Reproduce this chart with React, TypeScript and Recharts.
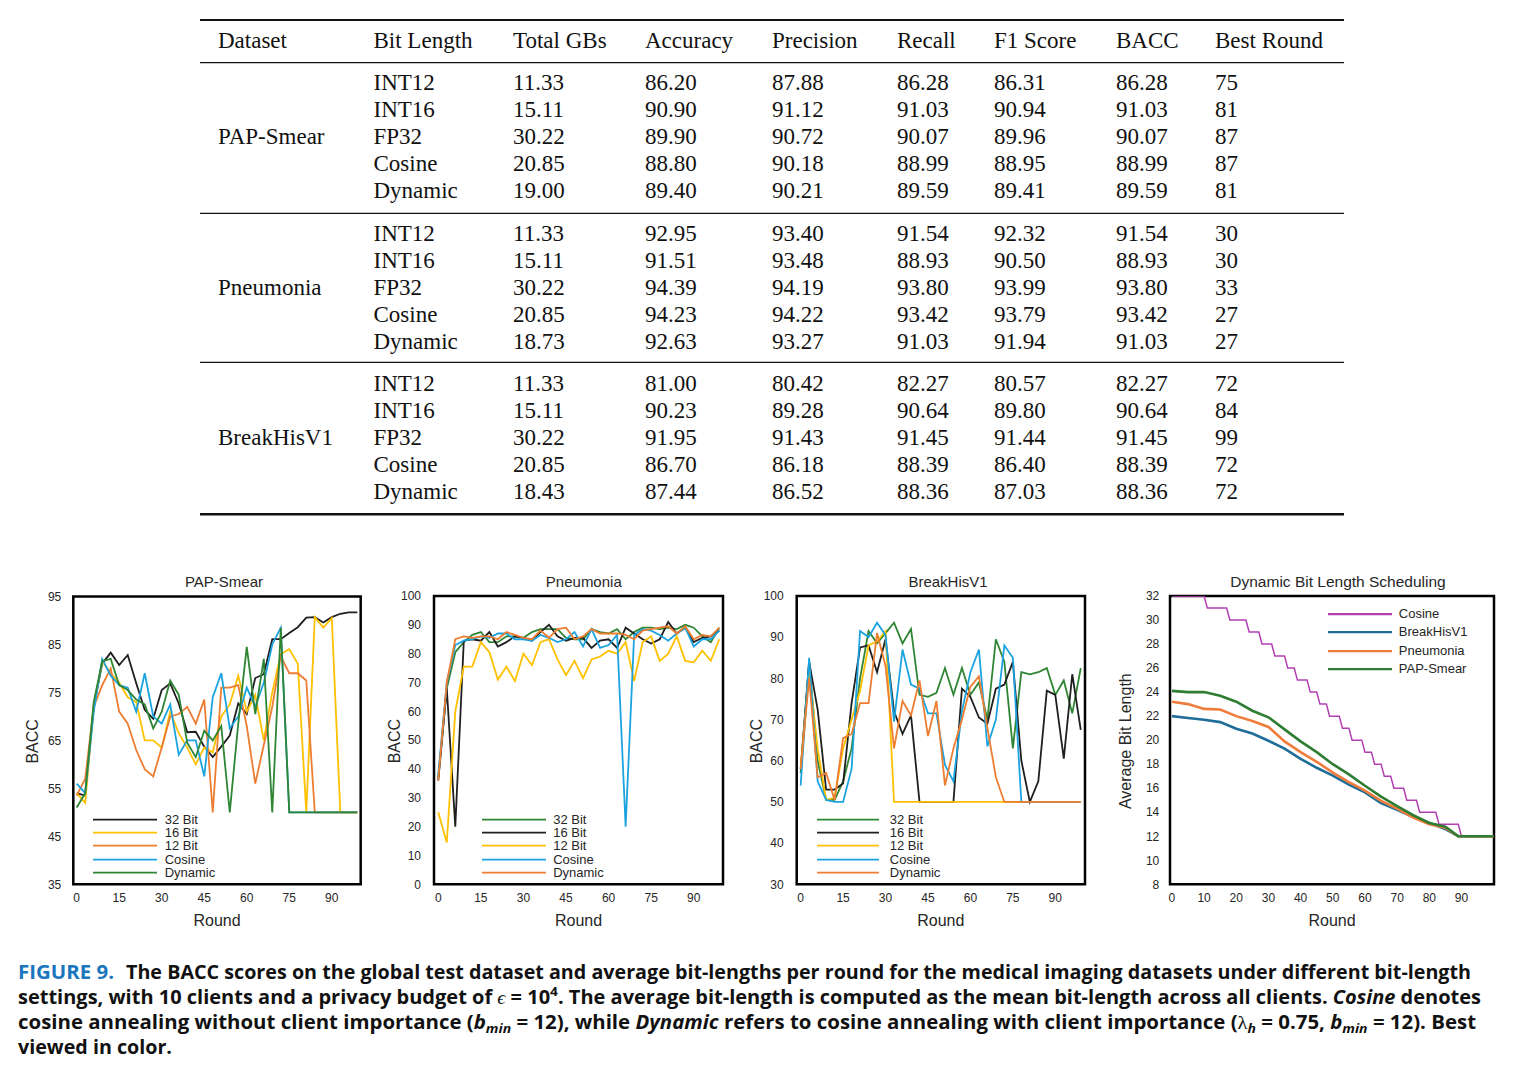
import React from 'react';
import { LineChart, Line, XAxis, YAxis, ReferenceArea, Legend } from 'recharts';

const SANS = "'Liberation Sans', Arial, Helvetica, sans-serif";
const SERIF = "'Liberation Serif', 'Times New Roman', serif";
const CAPTION_FONT = "'Liberation Sans Narrow', 'Open Sans', 'Noto Sans', sans-serif";

// ---------------- Table data ----------------
const tableHeaders = ['Dataset', 'Bit Length', 'Total GBs', 'Accuracy', 'Precision', 'Recall', 'F1 Score', 'BACC', 'Best Round'];
const datasets = ['PAP-Smear', 'Pneumonia', 'BreakHisV1'];
const bitLengths = ['INT12', 'INT16', 'FP32', 'Cosine', 'Dynamic'];
const totalGBs = [
  ['11.33', '15.11', '30.22', '20.85', '19.00'],
  ['11.33', '15.11', '30.22', '20.85', '18.73'],
  ['11.33', '15.11', '30.22', '20.85', '18.43'],
];
const accuracy = [
  ['86.20', '90.90', '89.90', '88.80', '89.40'],
  ['92.95', '91.51', '94.39', '94.23', '92.63'],
  ['81.00', '90.23', '91.95', '86.70', '87.44'],
];
const precision = [
  ['87.88', '91.12', '90.72', '90.18', '90.21'],
  ['93.40', '93.48', '94.19', '94.22', '93.27'],
  ['80.42', '89.28', '91.43', '86.18', '86.52'],
];
const recall = [
  ['86.28', '91.03', '90.07', '88.99', '89.59'],
  ['91.54', '88.93', '93.80', '93.42', '91.03'],
  ['82.27', '90.64', '91.45', '88.39', '88.36'],
];
const f1Score = [
  ['86.31', '90.94', '89.96', '88.95', '89.41'],
  ['92.32', '90.50', '93.99', '93.79', '91.94'],
  ['80.57', '89.80', '91.44', '86.40', '87.03'],
];
const bacc = [
  ['86.28', '91.03', '90.07', '88.99', '89.59'],
  ['91.54', '88.93', '93.80', '93.42', '91.03'],
  ['82.27', '90.64', '91.45', '88.39', '88.36'],
];
const bestRound = [
  ['75', '81', '87', '87', '81'],
  ['30', '30', '33', '27', '27'],
  ['72', '84', '99', '72', '72'],
];

// ---------------- Chart data (BACC per round) ----------------
const rounds = [0, 3, 6, 9, 12, 15, 18, 21, 24, 27, 30, 33, 36, 39, 42, 45, 48, 51, 54, 57, 60, 63, 66, 69, 72, 75, 78, 81, 84, 87, 90, 93, 96, 99];
const roundTicks = [0, 15, 30, 45, 60, 75, 90];

const papBit32 = [54, 53.5, 72, 81, 83.3, 80.7, 82.8, 76.9, 71.4, 69.5, 75.5, 76.9, 72.7, 66.7, 66.8, 63.7, 61.5, 63.7, 66, 72.7, 70.5, 78, 78.8, 86.1, 86.1, 87.4, 88.6, 90.6, 90.7, 89.6, 90.7, 91.4, 91.7, 91.7];
const papBit16 = [54, 52, 72, 81.5, 79, 77, 74, 73, 65, 65, 63.5, 71, 66.5, 63.5, 60, 63.5, 62.5, 70, 72.5, 78.5, 71, 74.5, 65, 75, 83, 84, 81, 50, 90.7, 88.5, 90.5, 50, 50, 50];
const papBit12 = [53.5, 57, 72, 76.5, 80, 71, 68.5, 63, 59, 57.5, 63.5, 70, 70.5, 72, 68.5, 73.5, 50, 76, 76, 76.5, 68, 56, 64, 72, 82.5, 79, 79, 77.5, 50, 50, 50, 50, 50, 50];
const papCosine = [56, 54, 71, 82, 78.5, 76.5, 76, 71, 79, 70, 68.5, 72.5, 62, 65, 65, 57.5, 74, 79, 67.5, 70, 76, 72, 77, 85, 88.5, 50, 50, 50, 50, 50, 50, 50, 50, 50];
const papDynamic = [51, 54, 73, 81.5, 82, 76.5, 75.5, 73.5, 72.5, 67.5, 71, 77.5, 74.5, 64.5, 61.5, 67, 65, 68, 50, 68.5, 84.5, 70.5, 82, 50, 88.5, 50, 50, 50, 50, 50, 50, 50, 50, 50];

const pneuBit32 = [37, 68, 80.5, 84, 86.5, 87.5, 84, 84, 86, 86, 85.5, 87.5, 88.5, 88.5, 88.5, 85.5, 85, 85, 88.5, 87.5, 87, 88.5, 85, 87.5, 89, 89, 88.5, 89, 88.5, 90, 89, 86, 84, 89];
const pneuBit16 = [36, 68, 20, 84.5, 85, 84.5, 87.5, 82.5, 84, 86, 85.5, 84.5, 87.5, 90, 86, 84.5, 85.5, 85.5, 82, 84.5, 85, 82, 89, 87, 85, 83.5, 85, 91, 87, 89, 84, 85.5, 86, 88];
const pneuBit12 = [25, 14.5, 60, 75.5, 75.5, 84, 80.5, 71, 75.5, 70.5, 80, 76, 84, 85, 78, 72.5, 77.5, 71.5, 78, 79, 81, 80, 84, 70.5, 84, 86, 77.5, 80, 86, 77.5, 77, 81, 77.5, 85];
const pneuCosine = [38, 70, 83, 84.5, 85, 86, 85.5, 87, 87, 85, 85, 84.5, 86.5, 85.5, 84, 85, 87.5, 82.5, 88.5, 82, 83, 86.5, 20, 86.5, 88.5, 88, 86.5, 84.5, 87, 89, 82.5, 85, 85, 88];
const pneuDynamic = [36, 70, 85, 86, 85.5, 86, 86, 85, 87.5, 86.5, 85.5, 85, 88, 85.5, 88.5, 89, 85, 86, 88.5, 87, 87, 87, 86.5, 85, 88, 88.5, 89, 89.5, 87, 89.5, 85, 86.5, 86, 89];

const brkBit32 = [57, 84, 60, 50.5, 50.5, 55, 63, 80, 91.5, 88.5, 91, 93.5, 88.5, 92, 76, 75.5, 76.5, 82.5, 76, 82.5, 76, 79, 70, 89.5, 84, 63, 81.5, 81, 81.5, 82.5, 76, 79.5, 71.5, 82.5];
const brkBit16 = [58, 84, 72.5, 53, 53, 54.5, 74, 87.5, 88, 81.5, 89.5, 72, 66.5, 71, 50, 50, 50, 50, 50, 77.5, 75.5, 70.5, 69, 77.5, 78.5, 84, 60, 50, 55, 77, 76, 60.5, 81, 67.5];
const brkBit12 = [58, 82, 63, 50.5, 51, 63, 70, 77, 88, 89, 91.5, 50, 50, 50, 50, 50, 50, 50, 50, 50, 50, 50, 50, 50, 50, 50, 50, 50, 50, 50, 50, 50, 50, 50];
const brkCosine = [54, 85, 55, 50.5, 50, 50, 58, 91.5, 90, 93.5, 90.5, 69.5, 87, 78.5, 77.5, 71.5, 71.5, 59, 55, 72, 81.5, 87, 63.5, 70, 88, 85, 50, 50, 50, 50, 50, 50, 50, 50];
const brkDynamic = [58, 80, 56, 57, 50.5, 65.5, 66.5, 74, 74, 91, 83, 63, 74.5, 71, 79.5, 66, 74.5, 54, 63, 70, 78, 80.5, 68, 56, 50, 50, 50, 50, 50, 50, 50, 50, 50, 50];

// ---------------- Dynamic bit length scheduling ----------------
const cosineRounds = [0, 10, 11, 17, 18, 23, 24, 27, 28, 31, 32, 35, 36, 38, 39, 42, 43, 45, 46, 48, 49, 52, 53, 55, 56, 59, 60, 62, 63, 65, 66, 68, 69, 72, 73, 76, 77, 82, 83, 89, 90, 100];
const cosineBits = [32, 32, 31, 31, 30, 30, 29, 29, 28, 28, 27, 27, 26, 26, 25, 25, 24, 24, 23, 23, 22, 22, 21, 21, 20, 20, 19, 19, 18, 18, 17, 17, 16, 16, 15, 15, 14, 14, 13, 13, 12, 12];
const dynRounds = [0, 5, 10, 15, 20, 25, 30, 35, 40, 45, 50, 55, 60, 65, 70, 75, 80, 85, 89, 100];
const breakHisBits = [22.0, 21.85, 21.7, 21.5, 20.95, 20.55, 19.95, 19.3, 18.45, 17.7, 17.05, 16.3, 15.65, 14.75, 14.2, 13.6, 13.1, 12.6, 12, 12];
const pneumoniaBits = [23.2, 23.0, 22.6, 22.55, 22.0, 21.6, 21.1, 19.9, 19.0, 18.2, 17.3, 16.5, 15.8, 14.95, 14.3, 13.55, 13.0, 12.7, 12, 12];
const papSmearBits = [24.1, 24.0, 24.0, 23.7, 23.2, 22.45, 21.9, 20.9, 19.9, 19.0, 18.0, 17.15, 16.2, 15.3, 14.5, 13.75, 13.1, 12.8, 12, 12];
const bitRoundTicks = [0, 10, 20, 30, 40, 50, 60, 70, 80, 90];
const bitTicks = [8, 10, 12, 14, 16, 18, 20, 22, 24, 26, 28, 30, 32];

// colors
const C_BLACK = '#1f1f1f';
const C_YELLOW = '#FFC000';
const C_ORANGE = '#ED7D31';
const C_CYAN = '#1BA3E0';
const C_GREEN = '#2F8533';

type SeriesCfg = { key: string; name: string; color: string; width: number };
type LegendCfg = { x: number; y: number; lineLen: number; gap: number; rowH: number; lineW: number; items: SeriesCfg[] };
type PanelCfg = {
  left: number; top: number; width: number; height: number;
  plot: { l: number; t: number; r: number; b: number };
  xDomain: [number, number]; xTicks: number[];
  yDomain: [number, number]; yTicks: number[];
  yTickMargin: number;
  yLabel: string; yLabelSize: number; yLabelX: number;
  rows: any[]; series: SeriesCfg[]; legend: LegendCfg;
};

function buildRows(xs: number[], cols: Record<string, number[]>) {
  return xs.map((r, i) => {
    const row: any = { round: r };
    Object.keys(cols).forEach((k) => { row[k] = cols[k][i]; });
    return row;
  });
}

function buildUnionRows(parts: { key: string; xs: number[]; ys: number[] }[]) {
  const map = new Map<number, any>();
  parts.forEach((p) => {
    p.xs.forEach((x, i) => {
      if (!map.has(x)) map.set(x, { round: x });
      map.get(x)[p.key] = p.ys[i];
    });
  });
  return Array.from(map.values()).sort((a, b) => a.round - b.round);
}

const papRows = buildRows(rounds, { b32: papBit32, b16: papBit16, b12: papBit12, cos: papCosine, dyn: papDynamic });
const pneuRows = buildRows(rounds, { b32: pneuBit32, b16: pneuBit16, b12: pneuBit12, cos: pneuCosine, dyn: pneuDynamic });
const brkRows = buildRows(rounds, { b32: brkBit32, b16: brkBit16, b12: brkBit12, cos: brkCosine, dyn: brkDynamic });
const bitRows = buildUnionRows([
  { key: 'cos', xs: cosineRounds, ys: cosineBits },
  { key: 'brk', xs: dynRounds, ys: breakHisBits },
  { key: 'pneu', xs: dynRounds, ys: pneumoniaBits },
  { key: 'pap', xs: dynRounds, ys: papSmearBits },
]);

const LW = 1.8;

function LegendBox({ cfg }: { cfg: LegendCfg }) {
  return (
    <div style={{ fontFamily: SANS, fontSize: 13, color: '#262626' }}>
      {cfg.items.map((it) => (
        <div key={it.key} style={{ display: 'flex', alignItems: 'center', height: cfg.rowH }}>
          <svg width={cfg.lineLen} height={cfg.rowH} style={{ display: 'block' }}>
            <line x1={0} x2={cfg.lineLen} y1={cfg.rowH / 2} y2={cfg.rowH / 2} stroke={it.color} strokeWidth={cfg.lineW} />
          </svg>
          <span style={{ marginLeft: cfg.gap, lineHeight: cfg.rowH + 'px', whiteSpace: 'nowrap' }}>{it.name}</span>
        </div>
      ))}
    </div>
  );
}

function Panel({ cfg }: { cfg: PanelCfg }) {
  const { left, top, width, height, plot } = cfg;
  const YW = 40;
  const XH = 45;
  const margin = {
    top: plot.t - top,
    left: plot.l - left - YW,
    right: left + width - plot.r,
    bottom: top + height - plot.b - XH,
  };
  const relL = plot.l - left;
  const relT = plot.t - top;
  const pw = plot.r - plot.l;
  const ph = plot.b - plot.t;
  const tickStyle = { fontSize: 12, fill: '#262626', fontFamily: SANS };
  const xLabel = () => (
    <text x={relL + pw / 2} y={relT + ph + 41.7} textAnchor="middle" fontSize={16} fontFamily={SANS} fill="#262626">Round</text>
  );
  const yLabel = () => (
    <text transform={`translate(${cfg.yLabelX - left},${relT + ph / 2 + 1}) rotate(-90)`} textAnchor="middle" dominantBaseline="central" fontSize={cfg.yLabelSize} fontFamily={SANS} fill="#262626">{cfg.yLabel}</text>
  );
  const lg = cfg.legend;
  return (
    <div style={{ position: 'absolute', left, top, width, height }}>
      <LineChart width={width} height={height} data={cfg.rows} margin={margin}>
        <XAxis type="number" dataKey="round" domain={cfg.xDomain} ticks={cfg.xTicks} interval={0} allowDataOverflow
          tickSize={0} tickMargin={9.5} axisLine={false} tickLine={false} height={XH} tick={tickStyle} label={{ content: xLabel } as any} />
        <YAxis type="number" domain={cfg.yDomain} ticks={cfg.yTicks} interval={0} allowDataOverflow width={YW}
          tickSize={0} tickMargin={cfg.yTickMargin} axisLine={false} tickLine={false} tick={tickStyle} label={{ content: yLabel } as any} />
        <ReferenceArea x1={cfg.xDomain[0]} x2={cfg.xDomain[1]} y1={cfg.yDomain[0]} y2={cfg.yDomain[1]} fill="none" fillOpacity={0} stroke="#000" strokeWidth={2.5} ifOverflow="visible" />
        {cfg.series.map((s) => (
          <Line key={s.key} dataKey={s.key} name={s.name} type="linear" stroke={s.color} strokeWidth={s.width}
            dot={false} activeDot={false} isAnimationActive={false} connectNulls />
        ))}
        <Legend verticalAlign="middle" align="center" layout="vertical"
          wrapperStyle={{ left: lg.x - left, top: lg.y - top - lg.rowH / 2, width: 'auto', height: 'auto' }}
          content={() => <LegendBox cfg={lg} />} />
      </LineChart>
    </div>
  );
}

const papSeries: SeriesCfg[] = [
  { key: 'b32', name: '32 Bit', color: C_BLACK, width: LW },
  { key: 'b16', name: '16 Bit', color: C_YELLOW, width: LW },
  { key: 'b12', name: '12 Bit', color: C_ORANGE, width: LW },
  { key: 'cos', name: 'Cosine', color: C_CYAN, width: LW },
  { key: 'dyn', name: 'Dynamic', color: C_GREEN, width: LW },
];
const otherSeries: SeriesCfg[] = [
  { key: 'b32', name: '32 Bit', color: C_GREEN, width: LW },
  { key: 'b16', name: '16 Bit', color: C_BLACK, width: LW },
  { key: 'b12', name: '12 Bit', color: C_YELLOW, width: LW },
  { key: 'cos', name: 'Cosine', color: C_CYAN, width: LW },
  { key: 'dyn', name: 'Dynamic', color: C_ORANGE, width: LW },
];
const bitSeries: SeriesCfg[] = [
  { key: 'cos', name: 'Cosine', color: '#B23FB2', width: 1.5 },
  { key: 'brk', name: 'BreakHisV1', color: '#1F6E9A', width: 2.6 },
  { key: 'pneu', name: 'Pneumonia', color: '#F07C3C', width: 2.6 },
  { key: 'pap', name: 'PAP-Smear', color: '#2E7D32', width: 2.6 },
];

const tens = (a: number, b: number, s: number) => { const out: number[] = []; for (let v = a; v <= b; v += s) out.push(v); return out; };

const panels: PanelCfg[] = [
  {
    left: 0, top: 560, width: 380, height: 380,
    plot: { l: 73.3, t: 596.5, r: 360.7, b: 884.3 },
    xDomain: [-1.2, 100.2], xTicks: roundTicks, yDomain: [35, 95], yTicks: tens(35, 95, 10), yTickMargin: 12,
    yLabel: 'BACC', yLabelSize: 16, yLabelX: 32.3, rows: papRows, series: papSeries,
    legend: { x: 92.7, y: 819.3, lineLen: 64, gap: 8, rowH: 13.3, lineW: LW, items: papSeries },
  },
  {
    left: 380, top: 560, width: 360, height: 380,
    plot: { l: 434, t: 596, r: 723, b: 884.3 },
    xDomain: [-1.5, 100.3], xTicks: roundTicks, yDomain: [0, 100], yTicks: tens(0, 100, 10), yTickMargin: 13,
    yLabel: 'BACC', yLabelSize: 16, yLabelX: 394, rows: pneuRows, series: otherSeries,
    legend: { x: 481.7, y: 819.3, lineLen: 64, gap: 7.5, rowH: 13.3, lineW: LW, items: otherSeries },
  },
  {
    left: 740, top: 560, width: 360, height: 380,
    plot: { l: 796.7, t: 596, r: 1085, b: 884.3 },
    xDomain: [-1.4, 100.5], xTicks: roundTicks, yDomain: [30, 100], yTicks: tens(30, 100, 10), yTickMargin: 13,
    yLabel: 'BACC', yLabelSize: 16, yLabelX: 756.7, rows: brkRows, series: otherSeries,
    legend: { x: 817.3, y: 819.3, lineLen: 62, gap: 10.5, rowH: 13.3, lineW: LW, items: otherSeries },
  },
  {
    left: 1100, top: 560, width: 417, height: 380,
    plot: { l: 1170, t: 596, r: 1494, b: 884.3 },
    xDomain: [-0.6, 100.1], xTicks: bitRoundTicks, yDomain: [8, 32], yTicks: bitTicks, yTickMargin: 10.7,
    yLabel: 'Average Bit Length', yLabelSize: 16, yLabelX: 1125, rows: bitRows, series: bitSeries,
    legend: { x: 1327.7, y: 614.3, lineLen: 64.6, gap: 6.5, rowH: 18.3, lineW: 2.4, items: bitSeries },
  },
];

const chartTitles = [
  { text: 'PAP-Smear', x: 224, size: 15 },
  { text: 'Pneumonia', x: 583.8, size: 15 },
  { text: 'BreakHisV1', x: 948, size: 15 },
  { text: 'Dynamic Bit Length Scheduling', x: 1338, size: 15.5 },
];

const colX = [218, 373.5, 513, 645, 772, 897, 994, 1116, 1215];

function TableAndText() {
  const cells: React.ReactNode[] = [];
  tableHeaders.forEach((h, c) => {
    cells.push(<text key={'h' + c} x={colX[c]} y={48.3}>{h}</text>);
  });
  datasets.forEach((d, g) => {
    const base = 90.4 + 150.1 * g;
    cells.push(<text key={'d' + g} x={colX[0]} y={base + 2 * 27}>{d}</text>);
    bitLengths.forEach((b, i) => {
      const y = base + 27 * i;
      const vals = [b, totalGBs[g][i], accuracy[g][i], precision[g][i], recall[g][i], f1Score[g][i], bacc[g][i], bestRound[g][i]];
      vals.forEach((v, c) => {
        cells.push(<text key={`c${g}-${i}-${c}`} x={colX[c + 1]} y={y}>{v}</text>);
      });
    });
  });
  const sub = { fontSize: 13, fontStyle: 'italic' as const };
  return (
    <svg width={1517} height={1075} style={{ position: 'absolute', left: 0, top: 0, pointerEvents: 'none' }}>
      <g fontFamily={SERIF} fontSize={23} fill="#111">{cells}</g>
      <g stroke="#111">
        <line x1={200} x2={1344} y1={20} y2={20} strokeWidth={2} />
        <line x1={200} x2={1344} y1={62.7} y2={62.7} strokeWidth={1.3} />
        <line x1={200} x2={1344} y1={213.3} y2={213.3} strokeWidth={1.3} />
        <line x1={200} x2={1344} y1={362.3} y2={362.3} strokeWidth={1.3} />
        <line x1={200} x2={1344} y1={514.3} y2={514.3} strokeWidth={2.4} />
      </g>
      <g fontFamily={SANS} fill="#262626" textAnchor="middle">
        {chartTitles.map((t) => (
          <text key={t.text} x={t.x} y={586.5} fontSize={t.size}>{t.text}</text>
        ))}
      </g>
      <g fontFamily={CAPTION_FONT} fontWeight={700} fontSize={19} fill="#111">
        <text x={18} y={979} fill="#1A76BC" textLength={96} lengthAdjust="spacingAndGlyphs">FIGURE 9.</text>
        <text x={126} y={979} textLength={1345} lengthAdjust="spacingAndGlyphs">The BACC scores on the global test dataset and average bit-lengths per round for the medical imaging datasets under different bit-length</text>
        <text x={18} y={1004} textLength={1463} lengthAdjust="spacingAndGlyphs">
          settings, with 10 clients and a privacy budget of <tspan fontFamily={SERIF} fontWeight={400} fontStyle="italic">ϵ</tspan> = 10<tspan dy={-8} fontSize={13}>4</tspan><tspan dy={8}>. The average bit-length is computed as the mean bit-length across all clients. </tspan><tspan fontStyle="italic">Cosine</tspan> denotes
        </text>
        <text x={18} y={1029} textLength={1458} lengthAdjust="spacingAndGlyphs">
          cosine annealing without client importance (<tspan fontStyle="italic">b</tspan><tspan dy={4} {...sub}>min</tspan><tspan dy={-4}> = 12), while </tspan><tspan fontStyle="italic">Dynamic</tspan> refers to cosine annealing with client importance (<tspan fontFamily={SERIF} fontWeight={400}>λ</tspan><tspan dy={4} {...sub}>h</tspan><tspan dy={-4}> = 0.75, </tspan><tspan fontStyle="italic">b</tspan><tspan dy={4} {...sub}>min</tspan><tspan dy={-4}> = 12). Best</tspan>
        </text>
        <text x={18} y={1054} textLength={154} lengthAdjust="spacingAndGlyphs">viewed in color.</text>
      </g>
    </svg>
  );
}

export default function App() {
  return (
    <div style={{ position: 'absolute', left: 0, top: 0, width: 1517, height: 1075, background: '#fff', overflow: 'hidden' }}>
      {panels.map((p, i) => <Panel key={i} cfg={p} />)}
      <TableAndText />
    </div>
  );
}
